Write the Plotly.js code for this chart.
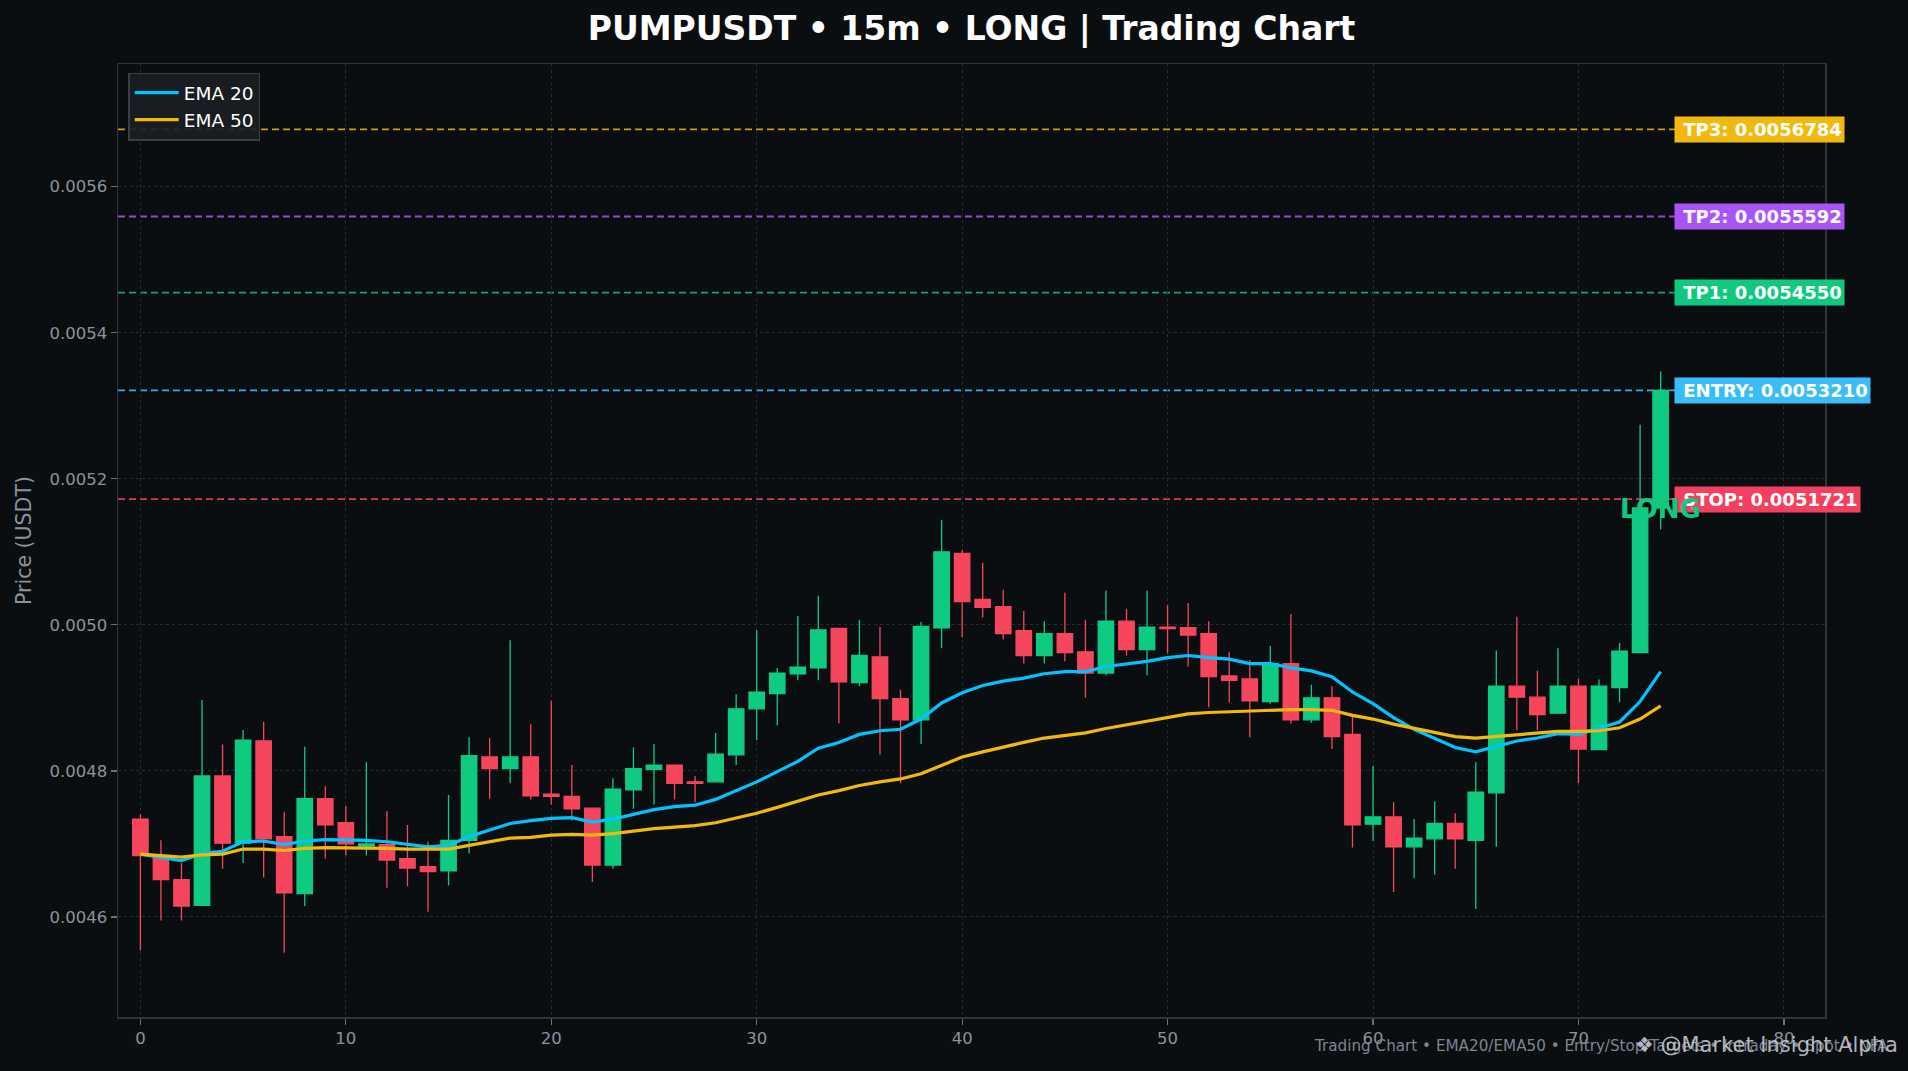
<!DOCTYPE html>
<html>
<head>
<meta charset="utf-8">
<script src="https://cdn.plot.ly/plotly-3.0.1.min.js"></script>
<style>
  html, body { margin: 0; padding: 0; background: #0b0e11; }
  #chart { width: 1908px; height: 1071px; }
</style>
</head>
<body>
<div id="chart"></div>
<script>
// ---- data ----
const candleIndex = Array.from({length: 75}, (_, i) => i);

const openPrices = [
  0.004734,0.004684,0.004651,0.004616,0.004793,0.004701,0.004841,0.004710,0.004632,0.004762,
  0.004729,0.004697,0.004699,0.004680,0.004669,0.004663,0.004705,0.004819,0.004803,0.004819,
  0.004768,0.004765,0.004749,0.004671,0.004774,0.004802,0.004808,0.004785,0.004785,0.004822,
  0.004885,0.004906,0.004933,0.004941,0.004995,0.004921,0.004956,0.004899,0.004870,0.004996,
  0.005098,0.005035,0.005025,0.004992,0.004958,0.004988,0.004963,0.004934,0.005005,0.004966,
  0.004997,0.004996,0.004988,0.004930,0.004926,0.004895,0.004947,0.004870,0.004900,0.004850,
  0.004727,0.004737,0.004696,0.004707,0.004728,0.004705,0.004770,0.004916,0.004901,0.004879,
  0.004916,0.004829,0.004914,0.004962,0.005160
];
const highPrices = [
  0.004741,0.004705,0.004674,0.004897,0.004836,0.004856,0.004867,0.004744,0.004833,0.004779,
  0.004752,0.004812,0.004745,0.004726,0.004703,0.004767,0.004846,0.004845,0.004979,0.004864,
  0.004896,0.004808,0.004750,0.004790,0.004832,0.004837,0.004809,0.004793,0.004852,0.004905,
  0.004993,0.004941,0.005012,0.005040,0.004996,0.005007,0.004997,0.004911,0.005004,0.005144,
  0.005103,0.005085,0.005048,0.005019,0.005005,0.005044,0.005007,0.005047,0.005022,0.005047,
  0.005027,0.005030,0.005005,0.004963,0.004952,0.004971,0.005015,0.004918,0.004916,0.004874,
  0.004807,0.004757,0.004734,0.004758,0.004742,0.004812,0.004965,0.005011,0.004937,0.004968,
  0.004926,0.004925,0.004975,0.005274,0.005347
];
const lowPrices = [
  0.004554,0.004595,0.004595,0.004615,0.004666,0.004674,0.004654,0.004551,0.004615,0.004680,
  0.004684,0.004684,0.004640,0.004642,0.004607,0.004643,0.004687,0.004762,0.004783,0.004761,
  0.004754,0.004732,0.004648,0.004666,0.004748,0.004754,0.004761,0.004757,0.004785,0.004808,
  0.004842,0.004862,0.004924,0.004924,0.004865,0.004916,0.004822,0.004783,0.004837,0.004968,
  0.004983,0.005010,0.004980,0.004947,0.004947,0.004950,0.004900,0.004931,0.004958,0.004931,
  0.004961,0.004943,0.004887,0.004894,0.004846,0.004892,0.004865,0.004866,0.004830,0.004695,
  0.004704,0.004634,0.004653,0.004658,0.004666,0.004611,0.004696,0.004856,0.004856,0.004879,
  0.004783,0.004829,0.004894,0.004962,0.005131
];
const closePrices = [
  0.004684,0.004651,0.004615,0.004793,0.004701,0.004842,0.004707,0.004633,0.004762,0.004726,
  0.004700,0.004700,0.004678,0.004667,0.004662,0.004705,0.004821,0.004803,0.004819,0.004766,
  0.004765,0.004748,0.004671,0.004775,0.004803,0.004808,0.004783,0.004783,0.004823,0.004885,
  0.004908,0.004934,0.004942,0.004993,0.004922,0.004958,0.004899,0.004870,0.004998,0.005100,
  0.005032,0.005024,0.004988,0.004958,0.004988,0.004962,0.004934,0.005005,0.004966,0.004997,
  0.004995,0.004986,0.004929,0.004924,0.004896,0.004947,0.004870,0.004900,0.004847,0.004726,
  0.004737,0.004696,0.004708,0.004728,0.004707,0.004771,0.004916,0.004901,0.004877,0.004916,
  0.004830,0.004916,0.004964,0.005160,0.005321
];
const ema20 = [
  0.004686,0.004682,0.004677,0.004687,0.004690,0.004703,0.004704,0.004699,0.004704,0.004706,
  0.004706,0.004705,0.004703,0.004700,0.004696,0.004698,0.004710,0.004719,0.004728,0.004732,
  0.004735,0.004736,0.004730,0.004734,0.004741,0.004747,0.004751,0.004753,0.004761,0.004773,
  0.004785,0.004799,0.004813,0.004831,0.004839,0.004850,0.004855,0.004857,0.004871,0.004893,
  0.004907,0.004917,0.004923,0.004927,0.004933,0.004936,0.004936,0.004943,0.004946,0.004950,
  0.004955,0.004958,0.004955,0.004953,0.004947,0.004947,0.004941,0.004937,0.004929,0.004908,
  0.004892,0.004873,0.004857,0.004845,0.004832,0.004826,0.004834,0.004841,0.004845,0.004851,
  0.004850,0.004858,0.004867,0.004895,0.004936
];
const ema50 = [
  0.004686,0.004684,0.004682,0.004685,0.004686,0.004693,0.004693,0.004691,0.004694,0.004695,
  0.004695,0.004695,0.004694,0.004693,0.004693,0.004693,0.004698,0.004703,0.004708,0.004709,
  0.004712,0.004713,0.004712,0.004714,0.004718,0.004721,0.004723,0.004725,0.004729,0.004735,
  0.004742,0.004750,0.004758,0.004767,0.004773,0.004780,0.004785,0.004789,0.004796,0.004808,
  0.004819,0.004826,0.004833,0.004839,0.004845,0.004849,0.004852,0.004858,0.004863,0.004869,
  0.004874,0.004878,0.004880,0.004881,0.004882,0.004884,0.004884,0.004884,0.004883,0.004876,
  0.004871,0.004864,0.004858,0.004853,0.004847,0.004845,0.004847,0.004849,0.004851,0.004854,
  0.004854,0.004855,0.004859,0.004871,0.004889
];

const levelNames  = ["TP3", "TP2", "TP1", "ENTRY", "STOP"];
const levelPrices = [0.0056784, 0.0055592, 0.0054550, 0.0053210, 0.0051721];
const levelLabels = ["TP3: 0.0056784", "TP2: 0.0055592", "TP1: 0.0054550", "ENTRY: 0.0053210", "STOP: 0.0051721"];

const xTickVals = [0, 10, 20, 30, 40, 50, 60, 70, 80];
const yTickVals = [0.0046, 0.0048, 0.0050, 0.0052, 0.0054, 0.0056];

// ---- styles ----
const BG = "#0b0e11";
const GREEN = "#0ecb81";
const RED = "#f6465d";
const levelColors = {
  TP3:   {line: "rgba(240,185,11,0.85)",  box: "#f0b90b"},
  TP2:   {line: "rgba(168,85,247,0.85)",  box: "#a855f7"},
  TP1:   {line: "rgba(16,185,129,0.85)",  box: "#10c97f"},
  ENTRY: {line: "rgba(56,189,248,0.9)",   box: "#38bdf8"},
  STOP:  {line: "rgba(244,63,94,0.9)",    box: "#f43f5e"}
};
const FONT = "DejaVu Sans, Verdana, sans-serif";

const traces = [
  {
    type: "candlestick",
    x: candleIndex,
    open: openPrices, high: highPrices, low: lowPrices, close: closePrices,
    increasing: {line: {color: GREEN, width: 1.3}, fillcolor: GREEN},
    decreasing: {line: {color: RED, width: 1.3}, fillcolor: RED},
    whiskerwidth: 0,
    showlegend: false,
    hoverinfo: "skip"
  },
  {
    type: "scatter", mode: "lines", name: "EMA 20",
    x: candleIndex, y: ema20,
    line: {color: "#00c3ff", width: 3.2}
  },
  {
    type: "scatter", mode: "lines", name: "EMA 50",
    x: candleIndex, y: ema50,
    line: {color: "#f0b90b", width: 3.2}
  }
];

const shapes = levelNames.map((n, i) => ({
  type: "line", xref: "paper", x0: 0, x1: 1, yref: "y",
  y0: levelPrices[i], y1: levelPrices[i],
  line: {color: levelColors[n].line, width: 1.8, dash: "7px,4px"},
  layer: "below"
}));

const annotations = levelNames.map((n, i) => ({
  xref: "x", yref: "y", x: 74.67, y: levelPrices[i],
  xanchor: "left", yanchor: "middle",
  text: "<b>\u00A0" + levelLabels[i] + "</b>",
  showarrow: false,
  font: {family: FONT, size: 18, color: "#ffffff"},
  bgcolor: levelColors[n].box,
  borderpad: 2,
  align: "left"
}));

annotations.push({
  xref: "x", yref: "y", x: 74, y: 0.005158,
  xanchor: "center", yanchor: "middle",
  text: "<b>LONG</b>", showarrow: false,
  font: {family: FONT, size: 26, color: "#10c880"}
});
annotations.push({
  xref: "paper", yref: "paper", x: 1.038, y: -0.0304,
  xanchor: "right", yanchor: "middle",
  text: "Trading Chart • EMA20/EMA50 • Entry/Stop/Targets • Intraday • Spot • NFA",
  showarrow: false,
  font: {family: FONT, size: 15.2, color: "#7d8590"}
});
annotations.push({
  xref: "paper", yref: "paper", x: 1.044, y: -0.0294,
  xanchor: "right", yanchor: "middle",
  text: "❖ @Market Insight Alpha",
  showarrow: false,
  font: {family: FONT, size: 21, color: "rgba(205,209,215,0.85)"}
});

const layout = {
  width: 1908, height: 1071,
  paper_bgcolor: BG, plot_bgcolor: BG,
  margin: {l: 118, r: 83, t: 64, b: 54, pad: 0},
  font: {family: FONT, color: "#8b929c", size: 16.5},
  title: {
    text: "<b>PUMPUSDT • 15m • LONG | Trading Chart</b>",
    font: {family: FONT, size: 33, color: "#ffffff"},
    x: 0.5, xanchor: "center", xref: "paper",
    y: 0.973, yanchor: "middle", yref: "container"
  },
  boxgap: 0,
  boxgroupgap: 0.25,
  xaxis: {
    range: [-1.09, 82.0],
    tickvals: xTickVals,
    ticks: "outside", ticklen: 6, tickwidth: 1.2, tickcolor: "#6b717a",
    tickfont: {family: FONT, size: 16.5, color: "#8b929c"},
    showgrid: true, gridcolor: "#262a31", griddash: "dot", gridwidth: 1,
    zeroline: false,
    showline: true, linecolor: "#2f343c", linewidth: 1.5, mirror: true,
    rangeslider: {visible: false},
    fixedrange: true
  },
  yaxis: {
    range: [0.004463, 0.005768],
    tickvals: yTickVals, tickformat: ".4f",
    ticks: "outside", ticklen: 6, tickwidth: 1.2, tickcolor: "#6b717a",
    tickfont: {family: FONT, size: 16.5, color: "#8b929c"},
    showgrid: true, gridcolor: "#262a31", griddash: "dot", gridwidth: 1,
    zeroline: false,
    showline: true, linecolor: "#2f343c", linewidth: 1.5, mirror: true,
    title: {text: "Price (USDT)", font: {family: FONT, size: 20.5, color: "#8b929c"}, standoff: 12},
    fixedrange: true
  },
  legend: {
    x: 0.006, y: 0.991, xanchor: "left", yanchor: "top",
    bgcolor: "rgba(27,30,36,0.92)", bordercolor: "#3a3f47", borderwidth: 1.5,
    font: {family: FONT, size: 18.5, color: "#ffffff"},
    itemwidth: 44,
    tracegroupgap: 0
  },
  shapes: shapes,
  annotations: annotations,
  showlegend: true,
  hovermode: false
};

Plotly.newPlot("chart", traces, layout, {displayModeBar: false, staticPlot: true});
</script>
</body>
</html>
